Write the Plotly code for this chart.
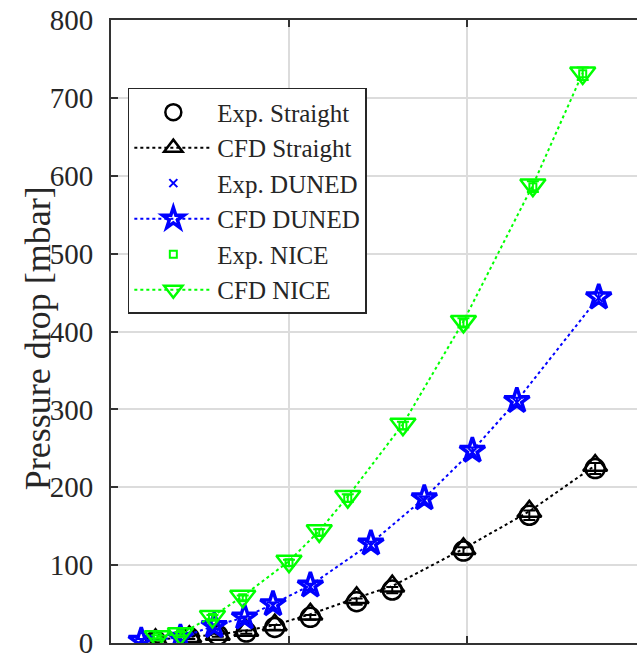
import plotly.graph_objects as go

# Flow axis positions (grid spacing = 1 unit) and pressure drop in mbar
x_straight = [0.25, 0.44, 0.60, 0.76, 0.92, 1.12, 1.38, 1.58, 1.98, 2.35, 2.72]
cfd_straight = [4, 8, 11, 16, 23, 37, 58, 73, 121, 169, 228]
exp_straight = [3, 7, 10, 14, 20, 33, 53, 68, 118, 164, 224]
err_straight = [2, 2, 2, 2, 3, 3, 4, 4, 5, 6, 7]

x_duned = [0.17, 0.39, 0.58, 0.75, 0.91, 1.12, 1.46, 1.76, 2.03, 2.28, 2.74]
cfd_duned = [3, 7, 22, 33, 50, 74, 128, 186, 247, 311, 444]
exp_duned = [3, 6, 21, 31, 48, 72, 125, 183, 245, 309, 443]
err_duned = [2, 2, 3, 3, 4, 4, 5, 5, 6, 6, 7]

x_nice = [0.26, 0.39, 0.57, 0.74, 1.00, 1.17, 1.33, 1.64, 1.98, 2.37, 2.65]
cfd_nice = [8, 12, 34, 60, 105, 144, 188, 281, 413, 588, 732]
exp_nice = [8, 12, 33, 58, 103, 142, 186, 279, 411, 586, 731]
err_nice = [2, 2, 3, 3, 4, 4, 5, 5, 6, 7, 8]

y_ticks = [0, 100, 200, 300, 400, 500, 600, 700, 800]

SERIF = "Liberation Serif, Times New Roman, serif"
BLACK, BLUE, GREEN = "#000000", "#0000ff", "#00ff00"

fig = go.Figure()


def exp_trace(name, x, y, err, color, symbol, size, lw=2):
    return go.Scatter(
        x=x, y=y, name=name, mode="markers",
        marker=dict(symbol=symbol, size=size, color=color,
                    line=dict(color=color, width=lw)),
        error_y=dict(type="data", array=err, visible=True,
                     color=color, thickness=2, width=6),
    )


def cfd_trace(name, x, y, color, symbol, size, lw=2.5):
    return go.Scatter(
        x=x, y=y, name=name, mode="lines+markers",
        line=dict(color=color, width=2, dash="dot"),
        marker=dict(symbol=symbol, size=size, color=color,
                    line=dict(color=color, width=lw)),
    )


fig.add_trace(exp_trace("Exp. Straight", x_straight, exp_straight, err_straight,
                        BLACK, "circle-open", 19, 2.5))
fig.add_trace(cfd_trace("CFD Straight", x_straight, cfd_straight, BLACK,
                        "triangle-up-open", 21, 2.5))
fig.add_trace(exp_trace("Exp. DUNED", x_duned, exp_duned, err_duned,
                        BLUE, "x-thin-open", 8))
fig.add_trace(cfd_trace("CFD DUNED", x_duned, cfd_duned, BLUE,
                        "star-open", 19, 3.5))
fig.add_trace(exp_trace("Exp. NICE", x_nice, exp_nice, err_nice,
                        GREEN, "square-open", 7))
fig.add_trace(cfd_trace("CFD NICE", x_nice, cfd_nice, GREEN,
                        "triangle-down-open", 22, 2.5))

fig.update_layout(
    width=637, height=659,
    margin=dict(l=111, r=0, t=20, b=14),
    paper_bgcolor="white", plot_bgcolor="white",
    font=dict(family=SERIF, color="#262626"),
    showlegend=True,
    legend=dict(
        x=0.032, y=0.891, xanchor="left", yanchor="top",
        bgcolor="white", bordercolor="#262626", borderwidth=1.5,
        font=dict(family=SERIF, size=25, color="#262626"),
        tracegroupgap=0, itemwidth=78,
    ),
    xaxis=dict(
        range=[0, 2.955], tickvals=[0, 1, 2, 3], showticklabels=False,
        showgrid=True, gridcolor="#dcdcdc", gridwidth=1.5,
        zeroline=False, showline=True, linecolor="#333333", linewidth=2,
        mirror="ticks", ticks="inside", ticklen=7, tickcolor="#333333",
        tickwidth=1.5,
    ),
    yaxis=dict(
        range=[0, 800], tickvals=y_ticks,
        showgrid=True, gridcolor="#dcdcdc", gridwidth=1.5,
        zeroline=False, showline=True, linecolor="#333333", linewidth=2,
        ticks="inside", ticklen=7, tickcolor="#333333", tickwidth=1.5,
        tickfont=dict(family=SERIF, size=29, color="#262626"),
        ticklabelstandoff=10, ticklabeloverflow="allow",
    ),
    annotations=[dict(
        text="Pressure drop [mbar]", textangle=-90,
        xref="paper", yref="paper", x=-0.139, y=0.489,
        xanchor="center", yanchor="middle", showarrow=False,
        font=dict(family=SERIF, size=36, color="#262626"),
    )],
)

fig.write_html("out.html")
